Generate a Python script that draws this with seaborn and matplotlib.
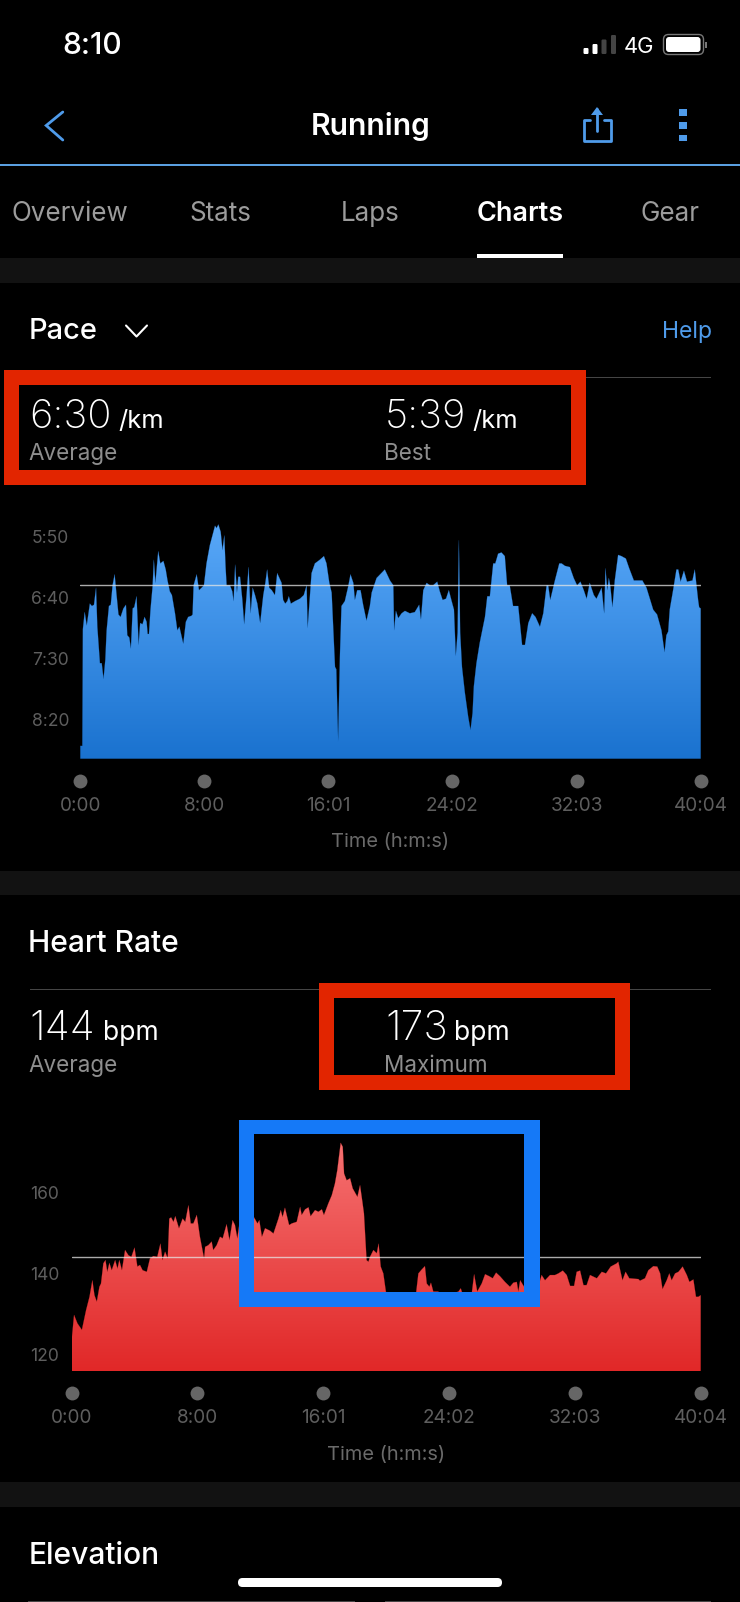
import numpy as np
import pandas as pd
import matplotlib
matplotlib.use("Agg")
import matplotlib.pyplot as plt
import seaborn as sns
from matplotlib.colors import LinearSegmentedColormap
from matplotlib.patches import FancyBboxPatch, Polygon, Rectangle

sns.set_theme(style="dark")
plt.rcParams['font.family'] = ['Inter', 'DejaVu Sans']

# ------ data ------
# time in seconds, pace in seconds per km
pace_time = [0, 8, 10, 17, 25, 37, 45, 53, 61, 66, 76, 83, 90, 97, 102, 111, 118, 125, 133, 141, 148, 156, 167, 177,
             182, 190, 196, 203, 209, 218, 226, 232, 241, 249, 257, 261, 266, 272, 280, 285, 291, 302, 310, 322, 331,
             338, 347, 355, 367, 376, 384, 399, 409, 418, 431, 435, 439, 451, 460, 470, 479, 489, 502, 522, 528, 535,
             544, 551, 558, 563, 567, 580, 589, 594, 600, 607, 612, 619, 628, 635, 644, 652, 660, 668, 677, 686, 697,
             709, 717, 724, 732, 742, 754, 763, 780, 786, 794, 802, 808, 816, 832, 851, 866, 877, 881, 887, 896, 909,
             928, 944, 954, 965, 974, 987, 992, 999, 1006, 1012, 1025, 1038, 1047, 1058, 1064, 1073, 1086, 1096, 1109,
             1122, 1129, 1148, 1180, 1200, 1213, 1216, 1223, 1232, 1245, 1258, 1277, 1296, 1313, 1320, 1329, 1342,
             1355, 1367, 1383, 1393, 1404, 1417, 1428, 1439, 1448, 1455, 1462, 1467, 1472, 1479, 1490, 1503, 1512,
             1520, 1525, 1535, 1548, 1568, 1577, 1587, 1600, 1608, 1619, 1632, 1645, 1654, 1664, 1677, 1697, 1712,
             1723, 1736, 1751, 1764, 1781, 1794, 1807, 1813, 1821, 1839, 1856, 1865, 1878, 1897, 1912, 1925, 1938,
             1951, 1962, 1974, 1990, 2000, 2020, 2030, 2035, 2042, 2048, 2054, 2062, 2071, 2084, 2097, 2114, 2127,
             2145, 2162, 2178, 2194, 2207, 2220, 2235, 2252, 2264, 2271, 2278, 2284, 2297, 2310, 2317, 2326, 2339,
             2351, 2372, 2381, 2394, 2398, 2404]
pace_sec = [522, 522, 426, 412, 423, 405, 407, 406, 392, 424, 454, 454, 467, 451, 427, 407, 406, 390, 381, 399, 414,
            416, 409, 406, 431, 433, 442, 409, 408, 399, 439, 421, 422, 416, 420, 430, 430, 410, 391, 369, 388, 362,
            372, 370, 377, 386, 395, 398, 413, 427, 424, 438, 420, 416, 415, 414, 390, 381, 394, 392, 390, 372, 357,
            341, 343, 340, 346, 361, 349, 375, 390, 390, 395, 403, 373, 396, 383, 383, 402, 422, 399, 375, 413, 392,
            398, 405, 421, 398, 388, 377, 392, 394, 398, 380, 388, 402, 405, 403, 399, 405, 403, 401, 398, 390, 425,
            407, 380, 372, 369, 366, 372, 388, 396, 457, 459, 518, 448, 407, 403, 391, 381, 388, 402, 394, 394, 406,
            419, 407, 396, 384, 377, 386, 390, 427, 411, 417, 413, 411, 413, 412, 406, 418, 394, 388, 390, 390, 387,
            395, 402, 401, 394, 403, 410, 448, 429, 353, 429, 457, 478, 498, 509, 495, 473, 454, 437, 416, 399, 399,
            372, 372, 364, 363, 366, 390, 390, 407, 407, 439, 439, 421, 413, 416, 424, 413, 390, 390, 402, 386, 372,
            372, 374, 375, 384, 390, 387, 394, 401, 388, 398, 401, 392, 413, 376, 394, 384, 391, 408, 386, 365, 366,
            368, 376, 386, 386, 386, 392, 401, 410, 414, 427, 445, 431, 428, 410, 394, 377, 377, 387, 378, 387, 386,
            377, 402, 408, 409]

hr_time = [0, 9, 22, 39, 55, 68, 79, 87, 96, 106, 112, 121, 129, 136, 144, 153, 166, 175, 182, 192, 204, 217, 228, 240,
           251, 261, 271, 287, 299, 312, 327, 339, 347, 357, 367, 373, 380, 389, 396, 410, 424, 434, 446, 455, 465, 478,
           490, 506, 510, 522, 535, 541, 554, 567, 577, 592, 603, 615, 624, 633, 641, 669, 697, 710, 717, 727, 739, 758,
           771, 790, 799, 806, 815, 831, 841, 860, 873, 879, 892, 905, 913, 930, 943, 956, 964, 981, 994, 1006, 1015,
           1028, 1036, 1041, 1051, 1064, 1074, 1092, 1102, 1111, 1117, 1127, 1134, 1140, 1153, 1166, 1173, 1181, 1191,
           1201, 1236, 1268, 1316, 1325, 1338, 1350, 1357, 1367, 1373, 1382, 1401, 1414, 1478, 1487, 1497, 1529, 1538,
           1550, 1567, 1580, 1596, 1609, 1622, 1637, 1656, 1675, 1688, 1701, 1707, 1714, 1729, 1752, 1787, 1796, 1809,
           1828, 1847, 1860, 1877, 1892, 1905, 1920, 1930, 1943, 1956, 1968, 1981, 2007, 2026, 2042, 2060, 2083, 2089,
           2105, 2117, 2131, 2166, 2172, 2191, 2204, 2223, 2238, 2249, 2258, 2274, 2284, 2293, 2306, 2319, 2335, 2351,
           2361, 2376, 2386, 2395, 2404]
hr_bpm = [123.5, 129.7, 127.6, 126.0, 130.9, 134.2, 138.3, 134.6, 133.0, 136.7, 137.5, 142.5, 143.3, 140.4, 142.6,
          140.8, 143.3, 141.2, 143.3, 140.8, 145.8, 144.5, 144.1, 146.4, 141.7, 142.1, 140.8, 140.4, 143.7, 144.3,
          144.1, 147.4, 143.3, 145.4, 143.7, 153.6, 153.9, 152.8, 154.2, 151.2, 153.6, 152.8, 156.9, 152.4, 152.4,
          154.5, 149.1, 143.7, 146.6, 147.0, 147.9, 145.8, 147.0, 149.1, 148.7, 152.2, 148.3, 153.2, 152.0, 148.7,
          152.4, 153.2, 153.9, 152.4, 153.2, 149.1, 151.2, 150.6, 149.9, 153.6, 155.7, 154.0, 156.3, 152.0, 152.4,
          152.8, 156.5, 154.5, 155.9, 156.4, 154.2, 155.7, 155.3, 155.9, 154.5, 157.4, 159.4, 162.3, 165.6, 172.4,
          171.4, 164.8, 163.1, 163.6, 161.1, 159.0, 161.9, 157.8, 154.9, 143.3, 142.9, 144.1, 145.8, 145.0, 147.4,
          141.7, 140.0, 135.4, 135.2, 134.6, 135.0, 140.0, 141.0, 141.8, 137.5, 136.7, 137.7, 135.5, 135.5, 134.2,
          135.5, 136.3, 134.2, 135.0, 139.8, 135.5, 137.5, 139.8, 139.3, 138.8, 140.2, 139.3, 137.9, 136.7, 137.7,
          137.9, 135.5, 138.3, 136.7, 135.9, 137.5, 139.6, 138.3, 139.6, 139.6, 140.0, 140.7, 139.6, 136.9, 136.9,
          140.4, 140.7, 137.1, 137.1, 139.6, 138.8, 140.4, 140.0, 141.7, 142.5, 142.9, 138.3, 140.4, 138.8, 138.6,
          138.2, 138.8, 140.8, 141.8, 141.7, 140.0, 136.1, 138.3, 140.0, 138.3, 140.0, 140.4, 141.7, 139.6, 137.9,
          138.5, 134.2, 134.2, 134.6]

time_ticks = [0, 480, 961, 1442, 1923, 2404]
time_labels = ['0:00', '8:00', '16:01', '24:02', '32:03', '40:04']
pace_ticks = [350, 400, 450, 500]
pace_labels = ['5:50', '6:40', '7:30', '8:20']
hr_ticks = [120, 140, 160]
hr_labels = ['120', '140', '160']
pace_avg = 390
hr_avg = 144

W, H = 740, 1602
GREY_TICK = '#5e5e5e'
GREY_TAB = '#9c9c9c'
GREY_SUB = '#8e8e8e'
BLUE_UI = '#4f9bea'
RED_BOX = '#e22500'
BLUE_BOX = '#1579f7'
RULE = '#454545'
BAND = '#121212'


def px(size):
    # font size given in screen pixels
    return size * 0.72


fig = plt.figure(figsize=(W / 100, H / 100), dpi=100, facecolor='black')


def chart(left, right, top, bottom, ylim, time, vals, avg, ticks, labels, colors, dot_y, tick_top, label_y, ypad):
    ax = fig.add_axes([left / W, 1 - bottom / H, (right - left) / W, (bottom - top) / H])
    ax.set_facecolor('black')
    df = pd.DataFrame({'time': time, 'value': vals})

    # fill under the trace, painted with a vertical gradient clipped to it
    poly = ax.fill_between(df['time'], df['value'], ylim[0], color='none', lw=0)
    cmap = LinearSegmentedColormap.from_list('fill', colors)
    grad = np.linspace(0, 1, 256).reshape(-1, 1)
    im = ax.imshow(grad, cmap=cmap, aspect='auto', extent=(0, 2404, ylim[0], ylim[1]), origin='upper', zorder=1)
    im.set_clip_path(poly.get_paths()[0], transform=ax.transData)

    sns.lineplot(data=df, x='time', y='value', ax=ax, color=colors[1], lw=0.25, alpha=0.6,
                 estimator=None, sort=False, zorder=2)
    ax.axhline(avg, color='#e6e6e6', alpha=0.75, lw=1.0, zorder=3)

    h = bottom - top
    dots = pd.DataFrame({'time': time_ticks, 'pos': [-(dot_y - bottom) / h] * len(time_ticks)})
    sns.scatterplot(data=dots, x='time', y='pos', ax=ax, color='#666666', s=100, linewidth=0,
                    transform=ax.get_xaxis_transform(), clip_on=False, zorder=4)

    ax.set_xlim(0, 2404)
    ax.set_ylim(*ylim)
    ax.set_xticks(time_ticks, time_labels)
    ax.set_yticks(ticks, labels)
    ax.tick_params(axis='x', length=0, pad=px(tick_top - bottom), labelsize=px(19), labelcolor=GREY_TICK)
    ax.tick_params(axis='y', length=0, pad=px(ypad), labelsize=px(17.5), labelcolor=GREY_TICK)
    ax.set_ylabel('')
    ax.set_xlabel('Time (h:m:s)', fontsize=px(20), color='#6a6a6a', va='center')
    ax.xaxis.set_label_coords(0.5, -(label_y - bottom) / h)
    ax.grid(False)
    for s in ax.spines.values():
        s.set_visible(False)
    return ax


ax_pace = chart(80.3, 700.7, 510, 758.7, (532.5, 328.1), pace_time, pace_sec, pace_avg, pace_ticks, pace_labels,
                ['#5cabfb', '#1a72cf'], 780.7, 797, 842, 11)
ax_hr = chart(71.7, 700.7, 1115, 1371, (115.8, 179.3), hr_time, hr_bpm, hr_avg, hr_ticks, hr_labels,
              ['#f87a7a', '#e12828'], 1392.7, 1409, 1454.7, 12.5)

# ------ app chrome, drawn in screen pixels on a see-through layer ------
ui = fig.add_axes([0, 0, 1, 1], zorder=10)
ui.set_xlim(0, W)
ui.set_ylim(H, 0)
ui.axis('off')
ui.patch.set_alpha(0)


def rect(x0, y0, x1, y1, color, **kw):
    ui.add_patch(Rectangle((x0, y0), x1 - x0, y1 - y0, facecolor=color, edgecolor='none', **kw))


def label(x, y, s, size, color='white', ha='left', weight='normal'):
    ui.text(x, y, s, fontsize=px(size), color=color, ha=ha, va='baseline', fontweight=weight)


def frame(x0, y0, x1, y1, ix0, iy0, ix1, iy1, color):
    # thick annotation box from four bars
    rect(x0, y0, x1, iy0, color)
    rect(x0, iy1, x1, y1, color)
    rect(x0, iy0, ix0, iy1, color)
    rect(ix1, iy0, x1, iy1, color)


# section bands
rect(0, 257.5, W, 282.5, BAND)
rect(0, 871, W, 895, BAND)
rect(0, 1482, W, 1506.5, BAND)

# status bar
label(92.5, 54, '8:10', 30, ha='center', weight='medium')
for x, top, col in [(583.5, 48, 'white'), (592.5, 44, 'white'), (601.5, 39.5, '#444444'), (611, 35, '#444444')]:
    ui.add_patch(FancyBboxPatch((x, top), 5, 54 - top, boxstyle='round,pad=0,rounding_size=1.2', fc=col, ec='none'))
label(639, 52.7, '4G', 22, ha='center')
ui.add_patch(FancyBboxPatch((663.5, 34.5), 40, 20, boxstyle='round,pad=0,rounding_size=5', fc='none', ec='#777777', lw=1))
ui.add_patch(FancyBboxPatch((666, 37), 34.5, 15, boxstyle='round,pad=0,rounding_size=3', fc='white', ec='none'))
rect(705, 41.5, 706.5, 47.5, '#777777')

# nav bar
ui.plot([62.8, 46.2, 62.8], [112, 125.5, 140], color=BLUE_UI, lw=2, solid_joinstyle='miter')
label(370.5, 135, 'Running', 30, ha='center', weight='semibold')
ui.plot([590, 583.5, 583.5, 610.5, 610.5, 604], [120, 120, 140.5, 140.5, 120, 120], color=BLUE_UI, lw=2)
ui.plot([597, 597], [109, 131], color=BLUE_UI, lw=2)
ui.add_patch(Polygon([[591, 115], [597, 107], [603, 115]], closed=True, fc=BLUE_UI, ec='none'))
for y0, y1 in [(109, 116), (122, 128.5), (135, 141)]:
    rect(679, y0, 687, y1, BLUE_UI)
rect(0, 164.3, W, 165.8, '#5a9fe0')

# tabs
for x, name in zip([70, 220, 370.5, 670], ['Overview', 'Stats', 'Laps', 'Gear']):
    label(x, 220.7, name, 26, GREY_TAB, ha='center')
label(520, 220.7, 'Charts', 27, ha='center', weight='semibold')
rect(477, 254, 563, 257.7, 'white')

# pace header
label(28.5, 339.3, 'Pace', 29, weight='medium')
ui.plot([126, 136.5, 147], [325.5, 336.5, 325.5], color='white', lw=1.5)
label(711.5, 338, 'Help', 23, BLUE_UI, ha='right')
rect(30, 376.5, 711, 377.5, RULE)
frame(4, 370, 586, 485, 19, 385, 571, 470, RED_BOX)
label(29, 428, '6:30', 40, weight='light')
label(118, 428, '/km', 25.5)
label(28.5, 460, 'Average', 22.5, GREY_SUB)
label(385, 428, '5:39', 40, weight='light')
label(472, 428, '/km', 25.5)
label(384.5, 460, 'Best', 22.5, GREY_SUB)

# heart rate header
label(28.5, 951.7, 'Heart Rate', 30, weight='medium')
rect(30, 988.5, 711, 989.5, RULE)
frame(318.5, 983, 630, 1090, 333.5, 998, 615, 1075, RED_BOX)
label(29, 1040, '144', 41, weight='light')
label(103, 1040, 'bpm', 26.5)
label(28.5, 1072, 'Average', 22.5, GREY_SUB)
label(385, 1040, '173', 41, weight='light')
label(454.5, 1040, 'bpm', 26.5)
label(384.5, 1072, 'Maximum', 22.5, GREY_SUB)

# blue box over the heart rate trace
frame(239, 1119.5, 539.5, 1307, 254, 1134, 524, 1292, BLUE_BOX)

# elevation stub and home bar
label(28.5, 1564, 'Elevation', 30, weight='medium')
rect(28, 1600.5, 355, 1602, RULE)
rect(385, 1600.5, 711, 1602, RULE)
ui.add_patch(FancyBboxPatch((238, 1578), 264, 9, boxstyle='round,pad=0,rounding_size=4.5', fc='white', ec='none'))

fig.savefig('out.png', dpi=100, facecolor='black')
